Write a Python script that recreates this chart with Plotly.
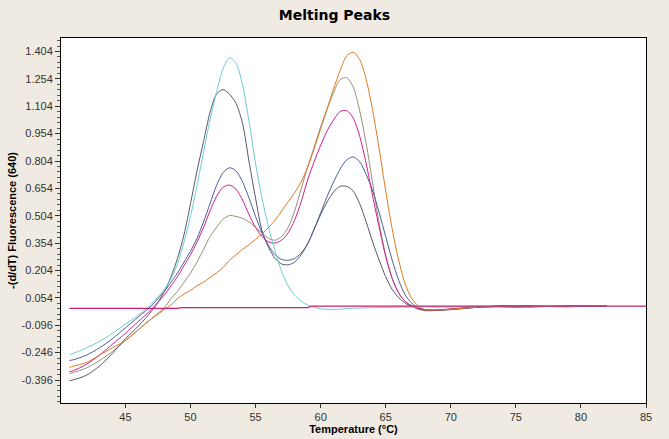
import plotly.graph_objects as go

# Temperature grid (°C)
temps = [40.7, 41, 42, 43, 44, 45, 46,
         47, 47.5, 48, 48.5, 49, 49.5, 50, 50.5, 51, 51.5, 52, 52.5, 53, 53.5,
         54, 54.5, 55, 55.5, 56, 56.5, 57, 57.5, 58, 58.5, 59, 59.5, 60, 60.5,
         61, 61.5, 62, 62.5, 63, 63.5, 64, 64.5, 65, 65.5, 66, 66.5, 67, 67.5, 68,
         69, 70, 71, 72, 73, 74, 75, 76, 77, 78, 79, 80, 81, 82]

cyan_vals = [-0.256, -0.25, -0.22, -0.185, -0.14, -0.09, -0.04,
             0.02, 0.06, 0.10, 0.16, 0.24, 0.36, 0.50, 0.67, 0.85, 1.03, 1.18, 1.31, 1.37, 1.34,
             1.22, 1.02, 0.79, 0.60, 0.44, 0.31, 0.20, 0.12, 0.07, 0.035, 0.015, 0.003, -0.005, -0.01,
             -0.01, -0.008, -0.005, -0.003, -0.002, 0.0, 0.0, 0.001, 0.002, 0.002, 0.003, 0.003, 0.004, 0.004, 0.004,
             0.003, 0.004, 0.006, 0.008, 0.007, 0.005, 0.006, 0.008, 0.009, 0.008, 0.007, 0.008, 0.009, 0.008]

darkgray_vals = [-0.40, -0.395, -0.37, -0.32, -0.25, -0.17, -0.10,
                 -0.02, 0.03, 0.09, 0.17, 0.27, 0.40, 0.57, 0.75, 0.91, 1.07, 1.17, 1.195, 1.17, 1.12,
                 1.01, 0.80, 0.60, 0.42, 0.33, 0.27, 0.24, 0.235, 0.25, 0.29, 0.35, 0.43, 0.51, 0.58,
                 0.635, 0.665, 0.665, 0.64, 0.57, 0.47, 0.36, 0.26, 0.17, 0.10, 0.055, 0.025, 0.008, -0.005, -0.012,
                 -0.014, -0.01, -0.004, 0.002, 0.005, 0.006, 0.004, 0.006, 0.008, 0.007, 0.006, 0.008, 0.009, 0.008]

slate_vals = [-0.289, -0.285, -0.26, -0.22, -0.17, -0.11, -0.05,
              0.01, 0.05, 0.09, 0.14, 0.19, 0.25, 0.31, 0.38, 0.47, 0.57, 0.67, 0.74, 0.767, 0.75,
              0.69, 0.60, 0.50, 0.41, 0.34, 0.29, 0.265, 0.26, 0.27, 0.30, 0.35, 0.43, 0.52, 0.61,
              0.69, 0.76, 0.81, 0.826, 0.80, 0.73, 0.64, 0.52, 0.39, 0.26, 0.15, 0.07, 0.025, 0.0, -0.01,
              -0.013, -0.008, -0.003, 0.003, 0.008, 0.012, 0.008, 0.005, 0.006, 0.009, 0.012, 0.010, 0.008, 0.008]

magenta_vals = [-0.35, -0.345, -0.31, -0.26, -0.20, -0.14, -0.075,
                -0.01, 0.03, 0.07, 0.12, 0.17, 0.23, 0.29, 0.36, 0.44, 0.53, 0.61, 0.66, 0.672, 0.65,
                0.59, 0.51, 0.44, 0.39, 0.36, 0.355, 0.37, 0.41, 0.48, 0.58, 0.70, 0.80, 0.89, 0.97,
                1.03, 1.075, 1.08, 1.04, 0.94, 0.79, 0.61, 0.44, 0.28, 0.16, 0.08, 0.035, 0.01, -0.005, -0.012,
                -0.012, -0.006, 0.0, 0.004, 0.006, 0.008, 0.010, 0.012, 0.009, 0.006, 0.008, 0.011, 0.012, 0.010]

olive_vals = [-0.36, -0.355, -0.33, -0.29, -0.24, -0.18, -0.12,
              -0.06, -0.03, 0.0, 0.05, 0.09, 0.14, 0.19, 0.25, 0.32, 0.39, 0.44, 0.485, 0.505, 0.50,
              0.49, 0.47, 0.44, 0.41, 0.38, 0.37, 0.39, 0.44, 0.53, 0.65, 0.77, 0.88, 0.99, 1.09,
              1.18, 1.25, 1.26, 1.21, 1.08, 0.90, 0.68, 0.46, 0.29, 0.16, 0.08, 0.035, 0.01, -0.008, -0.016,
              -0.015, -0.01, -0.004, 0.002, 0.005, 0.004, 0.003, 0.005, 0.007, 0.006, 0.005, 0.007, 0.008, 0.007]

orange_vals = [-0.327, -0.32, -0.30, -0.26, -0.22, -0.18, -0.12,
               -0.06, -0.035, -0.01, 0.015, 0.05, 0.075, 0.095, 0.12, 0.14, 0.165, 0.19, 0.22, 0.26, 0.29,
               0.32, 0.345, 0.375, 0.405, 0.44, 0.48, 0.53, 0.58, 0.63, 0.69, 0.77, 0.87, 0.98, 1.09,
               1.20, 1.30, 1.38, 1.40, 1.36, 1.25, 1.08, 0.87, 0.64, 0.43, 0.26, 0.13, 0.05, 0.01, -0.01,
               -0.012, -0.008, -0.002, 0.003, 0.006, 0.008, 0.007, 0.005, 0.006, 0.008, 0.010, 0.011, 0.010, 0.009]

# Negative control (flat line)
ntc_temps = [40.7, 49.0, 49.3, 59.0, 59.3, 85.0]
ntc_vals = [-0.004, -0.004, 0.001, 0.001, 0.009, 0.009]

y_tick_labels = ["-0.396", "-0.246", "-0.096", "0.054", "0.204", "0.354", "0.504",
                 "0.654", "0.804", "0.954", "1.104", "1.254", "1.404"]
x_tick_labels = ["45", "50", "55", "60", "65", "70", "75", "80", "85"]

series = [
    ("olive", olive_vals, "#978E78"),
    ("dark gray", darkgray_vals, "#55566A"),
    ("slate", slate_vals, "#4D5C9C"),
    ("magenta", magenta_vals, "#CC1F8C"),
    ("orange", orange_vals, "#E0781E"),
    ("cyan", cyan_vals, "#6CCCD0"),
]

fig = go.Figure()
for name, vals, col in series:
    fig.add_trace(go.Scatter(x=temps, y=vals, mode="lines", name=name,
                             line=dict(color=col, width=1, shape="spline", smoothing=0.8)))
fig.add_trace(go.Scatter(x=ntc_temps, y=ntc_vals, mode="lines", name="ntc",
                         line=dict(color="#C8206E", width=1.3)))

bg = "#EFEBE2"
fig.update_layout(
    width=669, height=439,
    paper_bgcolor=bg, plot_bgcolor="white",
    margin=dict(l=61, r=23, t=38, b=36, autoexpand=False),
    showlegend=False,
    title=dict(text="<b>Melting Peaks</b>", x=0.5, xanchor="center", y=0.966, yanchor="middle",
               font=dict(family="DejaVu Sans, Arial", size=14, color="black")),
    font=dict(family="Liberation Sans, Arial", size=11, color="#222222"),
)
fig.update_xaxes(
    range=[40.05, 85.0], showgrid=False, zeroline=False, automargin=False,
    showline=True, linecolor="black", linewidth=1, mirror=True,
    ticks="outside", ticklen=4, tickcolor="#333333",
    tickvals=[float(v) for v in x_tick_labels], ticktext=x_tick_labels,
    tickfont=dict(size=11, color="#333333"),
    title=dict(text="<b>Temperature (°C)</b>", standoff=3,
               font=dict(size=11, color="black")),
)
fig.update_yaxes(
    range=[-0.522, 1.478], showgrid=False, zeroline=False, automargin=False,
    showline=True, linecolor="black", linewidth=1, mirror=True,
    ticks="outside", ticklen=5, tickcolor="#333333",
    tickvals=[float(v) for v in y_tick_labels], ticktext=y_tick_labels,
    tickfont=dict(size=11, color="#333333"),
    minor=dict(dtick=0.03, tick0=0.054, ticks="outside", ticklen=3, tickcolor="#555555"),
    title=dict(text="<b>-(d/dT) Fluorescence (640)</b>", standoff=2,
               font=dict(size=11, color="black")),
)

fig.write_html("out.html", config={"displayModeBar": False},
               post_script="document.body.style.margin='0';document.body.style.background='%s';" % bg)
